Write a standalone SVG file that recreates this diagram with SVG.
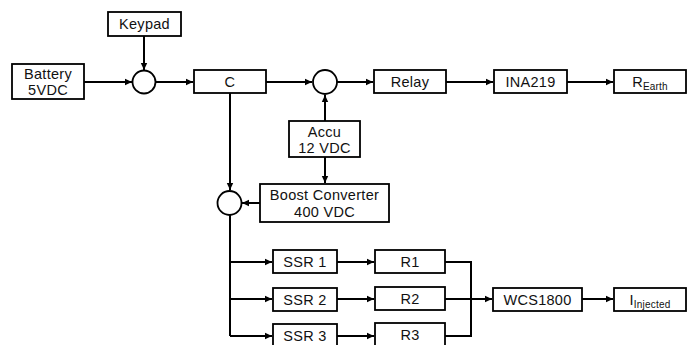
<svg xmlns="http://www.w3.org/2000/svg" width="688" height="345" viewBox="0 0 688 345">
<style>
.b{fill:#fff;stroke:#000;stroke-width:1.8}
.c{fill:#fff;stroke:#000;stroke-width:1.8}
.t{font-family:"Liberation Sans",Arial,sans-serif;font-size:14.5px;letter-spacing:0.3px;fill:#111;text-anchor:middle}
.s{font-size:10px;letter-spacing:0.2px}
.w{fill:none;stroke:#000;stroke-width:2}
</style>
<defs>
<marker id="a" markerWidth="8" markerHeight="8" refX="7" refY="4" orient="auto" markerUnits="userSpaceOnUse">
<path d="M0,0.8 L7,4 L0,7.2 Z" fill="#000"/>
</marker>
</defs>
<rect width="688" height="345" fill="#fff"/>
<g id="connectors">
<path class="w" d="M144,36 V70" marker-end="url(#a)"/>
<path class="w" d="M84,82 H132" marker-end="url(#a)"/>
<path class="w" d="M156,82 H193" marker-end="url(#a)"/>
<path class="w" d="M266,82 H312" marker-end="url(#a)"/>
<path class="w" d="M337,82 H373" marker-end="url(#a)"/>
<path class="w" d="M446,82 H493" marker-end="url(#a)"/>
<path class="w" d="M567,82 H613" marker-end="url(#a)"/>
<path class="w" d="M325,121 V95" marker-end="url(#a)"/>
<path class="w" d="M325,157 V183" marker-end="url(#a)"/>
<path class="w" d="M230,93 V190" marker-end="url(#a)"/>
<path class="w" d="M260,203 H242" marker-end="url(#a)"/>
<path class="w" d="M230,215 V336"/>
<path class="w" d="M230,262 H272" marker-end="url(#a)"/>
<path class="w" d="M230,299 H272" marker-end="url(#a)"/>
<path class="w" d="M230,336 H272" marker-end="url(#a)"/>
<path class="w" d="M337,262 H374" marker-end="url(#a)"/>
<path class="w" d="M337,299 H374" marker-end="url(#a)"/>
<path class="w" d="M337,336 H374" marker-end="url(#a)"/>
<path class="w" d="M445,262 H471 V336 H445"/>
<path class="w" d="M445,299 H492" marker-end="url(#a)"/>
<path class="w" d="M582,299 H613" marker-end="url(#a)"/>
</g>
<g id="keypad"><rect class="b" x="108" y="12" width="73" height="24"/><text class="t" x="144.5" y="29">Keypad</text></g>
<g id="battery"><rect class="b" x="12" y="64" width="72" height="35"/><text class="t" x="48" y="79">Battery</text><text class="t" x="48" y="95">5VDC</text></g>
<g id="sum1"><circle class="c" cx="144" cy="82" r="11.5"/></g>
<g id="c"><rect class="b" x="194" y="70" width="72" height="23"/><text class="t" x="230" y="87">C</text></g>
<g id="sum2"><circle class="c" cx="325" cy="82" r="12"/></g>
<g id="relay"><rect class="b" x="374" y="70" width="72" height="23"/><text class="t" x="410" y="87">Relay</text></g>
<g id="ina219"><rect class="b" x="494" y="70" width="73" height="23"/><text class="t" x="530.5" y="87">INA219</text></g>
<g id="rearth"><rect class="b" x="614" y="70" width="72" height="23"/><text class="t" x="650" y="87">R<tspan class="s" dy="3">Earth</tspan></text></g>
<g id="accu"><rect class="b" x="289" y="121" width="71" height="36"/><text class="t" x="324.5" y="137">Accu</text><text class="t" x="324.5" y="153">12 VDC</text></g>
<g id="sum3"><circle class="c" cx="229.5" cy="203" r="12"/></g>
<g id="boost"><rect class="b" x="260" y="184" width="129" height="38"/><text class="t" x="324.5" y="200">Boost Converter</text><text class="t" x="324.5" y="217">400 VDC</text></g>
<g id="ssr1"><rect class="b" x="273" y="250" width="64" height="23"/><text class="t" x="305" y="267">SSR 1</text></g>
<g id="ssr2"><rect class="b" x="273" y="288" width="64" height="23"/><text class="t" x="305" y="305">SSR 2</text></g>
<g id="ssr3"><rect class="b" x="273" y="324" width="64" height="23"/><text class="t" x="305" y="341">SSR 3</text></g>
<g id="r1"><rect class="b" x="375" y="250" width="70" height="23"/><text class="t" x="410" y="267">R1</text></g>
<g id="r2"><rect class="b" x="375" y="287" width="70" height="23"/><text class="t" x="410" y="304">R2</text></g>
<g id="r3"><rect class="b" x="375" y="323" width="70" height="24"/><text class="t" x="410" y="340">R3</text></g>
<g id="wcs1800"><rect class="b" x="493" y="288" width="89" height="23"/><text class="t" x="537.5" y="305">WCS1800</text></g>
<g id="iinjected"><rect class="b" x="614" y="288" width="72" height="23"/><text class="t" x="650" y="305">I<tspan class="s" dy="3">Injected</tspan></text></g>
</svg>
